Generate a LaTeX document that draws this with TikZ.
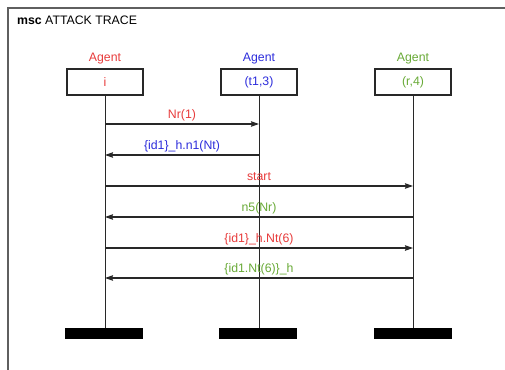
\documentclass[tikz,border=0pt]{standalone}
\usepackage{fontspec}
\setmainfont{Liberation Sans}
\usetikzlibrary{arrows.meta}
\definecolor{cred}{RGB}{232,60,60}
\definecolor{cblue}{RGB}{45,45,220}
\definecolor{cgreen}{RGB}{105,170,55}
\definecolor{framec}{RGB}{95,95,95}
\definecolor{linec}{RGB}{40,40,40}
\begin{document}
\begin{tikzpicture}[x=1pt,y=-1pt,
  txt/.style={font=\fontsize{12.3}{14}\selectfont, inner sep=0pt},
  agentbox/.style={draw=linec, line width=1.1pt, minimum width=76pt, minimum height=26pt, inner sep=0pt, font=\fontsize{12.3}{14}\selectfont},
  endbar/.style={fill=black, draw=none, minimum width=78pt, minimum height=11pt, inner sep=0pt},
  life/.style={draw=linec, line width=0.9pt},
  msg/.style={draw=linec, line width=1.3pt, -{Stealth[length=8pt,width=5.5pt,inset=1pt]}},
  lbl/.style={font=\fontsize{12.3}{14}\selectfont, inner sep=0pt, anchor=base}
]
\useasboundingbox (0,0) rectangle (505,369);
\fill[white] (0,0) rectangle (505,369);
\draw[framec, line width=1.6pt] (8,375) -- (8,8) -- (512,8);
\node[txt, anchor=west] (title) at (17,20) {\textbf{msc} ATTACK TRACE};

% agent headers
\node[txt, text=cred] (la) at (105,59) {Agent};
\node[txt, text=cblue] (lb) at (259,59) {Agent};
\node[txt, text=cgreen] (lc) at (413,59) {Agent};
\node[agentbox, text=cred] (A) at (105,82) {i};
\node[agentbox, text=cblue] (B) at (259,82) {(t1,3)};
\node[agentbox, text=cgreen] (C) at (413,82) {(r,4)};

% end bars
\node[endbar] (EA) at (104,333.5) {};
\node[endbar] (EB) at (258,333.5) {};
\node[endbar] (EC) at (413,333.5) {};

% lifelines
\draw[life] (A.south) -- (A.south |- EA.north);
\draw[life] (B.south) -- (B.south |- EB.north);
\draw[life] (C.south) -- (C.south |- EC.north);

% message end points
\coordinate (m1s) at (A |- 0,124);  \coordinate (m1e) at (B |- 0,124);
\coordinate (m2s) at (B |- 0,155);  \coordinate (m2e) at (A |- 0,155);
\coordinate (m3s) at (A |- 0,186);  \coordinate (m3e) at (C |- 0,186);
\coordinate (m4s) at (C |- 0,217);  \coordinate (m4e) at (A |- 0,217);
\coordinate (m5s) at (A |- 0,248);  \coordinate (m5e) at (C |- 0,248);
\coordinate (m6s) at (C |- 0,278);  \coordinate (m6e) at (A |- 0,278);

\draw[msg] (m1s) -- node[lbl, text=cred, yshift=6pt] (t1) {Nr(1)} (m1e);
\draw[msg] (m2s) -- node[lbl, text=cblue, yshift=6pt] (t2) {\{id1\}\_h.n1(Nt)} (m2e);
\draw[msg] (m3s) -- node[lbl, text=cred, yshift=6pt] (t3) {start} (m3e);
\draw[msg] (m4s) -- node[lbl, text=cgreen, yshift=6pt] (t4) {n5(Nr)} (m4e);
\draw[msg] (m5s) -- node[lbl, text=cred, yshift=6pt] (t5) {\{id1\}\_h.Nt(6)} (m5e);
\draw[msg] (m6s) -- node[lbl, text=cgreen, yshift=6pt] (t6) {\{id1.Nt(6)\}\_h} (m6e);
\end{tikzpicture}
\end{document}
